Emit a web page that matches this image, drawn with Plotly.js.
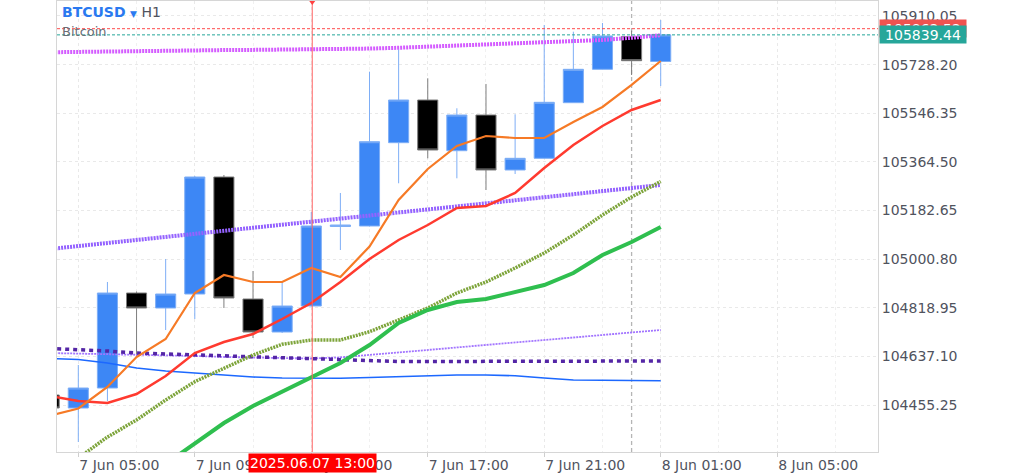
<!DOCTYPE html>
<html>
<head>
<meta charset="utf-8">
<script src="https://cdn.plot.ly/plotly-3.0.1.min.js"></script>
<style>html,body{margin:0;padding:0;background:#fff;}#chart{width:1024px;height:473px;}</style>
</head>
<body>
<div id="chart"></div>
<script>
// ---- data (BTCUSD, H1) ----
const times = ['2025-06-07 04:00','2025-06-07 05:00','2025-06-07 06:00','2025-06-07 07:00','2025-06-07 08:00','2025-06-07 09:00','2025-06-07 10:00','2025-06-07 11:00','2025-06-07 12:00','2025-06-07 13:00','2025-06-07 14:00','2025-06-07 15:00','2025-06-07 16:00','2025-06-07 17:00','2025-06-07 18:00','2025-06-07 19:00','2025-06-07 20:00','2025-06-07 21:00','2025-06-07 22:00','2025-06-07 23:00','2025-06-08 00:00','2025-06-08 01:00'];
const openP  = [104492.8,104444.2,104519.0,104874.2,104818.1,104870.5,105308.0,104851.8,104728.4,104825.6,105122.9,105124.8,105436.3,105595.9,105406.3,105539.8,105334.2,105377.9,105585.8,105710.7,105833.4,105739.9];
const highP  = [104495.0,104605.0,104915.4,104879.8,105001.4,105311.8,105315.5,104956.5,104915.4,105177.1,105248.2,105701.8,105785.5,105677.1,105564.9,105655.8,105542.4,105876.4,105851.3,105883.9,105855.1,105895.1];
const lowP   = [104440.0,104317.1,104470.4,104634.9,104735.9,104776.9,104818.1,104706.0,104724.6,104823.8,105035.0,105122.9,105284.5,105377.9,105303.1,105259.4,105319.2,105377.2,105584.7,105710.0,105689.4,105648.3];
const closeP = [104444.2,104519.0,104874.2,104818.1,104870.5,105308.0,104855.5,104728.4,104825.6,105124.8,105128.5,105440.0,105595.9,105408.9,105539.8,105334.2,105377.9,105587.3,105710.7,105835.3,105742.9,105839.44];

const maOrange  = [104414.3,104442.4,104522.7,104634.9,104702.2,104874.3,104941.6,104915.4,104915.4,104967.7,104934.1,105048.1,105222.0,105337.9,105423.9,105461.3,105453.9,105453.9,105513.7,105569.8,105652.1,105741.8];
const maRed     = [104489.1,104470.4,104462.9,104496.6,104563.9,104649.9,104691.0,104720.9,104777.0,104836.9,104915.4,105001.4,105072.4,105128.5,105192.1,105199.6,105248.2,105341.7,105427.7,105498.7,105558.6,105596.0];
const maGreen   = [null,null,null,null,104234.8,104313.3,104388.1,104451.7,104504.1,104556.4,104612.5,104679.8,104762.1,104810.7,104840.6,104851.8,104878.0,104904.2,104949.0,105016.4,105065.0,105121.1];
const maOlive   = [null,104257.3,104335.8,104399.4,104474.1,104542.6,104592.7,104642.4,104682.4,104698.5,104698.5,104729.5,104773.3,104818.2,104874.3,104915.4,104967.7,105023.8,105091.1,105165.9,105233.2,105291.2];
const maBlue    = [104629.3,104625.6,104612.5,104593.8,104582.6,104575.1,104567.6,104560.1,104556.4,104556.4,104555.3,104558.3,104561.3,104563.9,104567.6,104567.6,104565.0,104556.4,104548.9,104547.8,104547.1,104546.3];
const maIndigo  = [104666.7,104663.0,104657.4,104649.9,104646.2,104642.4,104638.7,104635.0,104633.1,104627.5,104625.6,104621.8,104618.1,104618.1,104618.1,104618.1,104620.0,104620.0,104620.0,104620.0,104620.0,104620.0];
const maLilac   = [104649.9,104648.0,104644.3,104642.4,104640.5,104638.7,104635.0,104633.1,104631.2,104629.3,104633.4,104642.4,104651.7,104661.1,104670.5,104679.8,104689.2,104698.5,104707.9,104717.2,104726.6,104735.9];
const maViolet  = [105038.4,105049.6,105060.9,105072.4,105083.7,105095.3,105106.8,105118.1,105129.7,105140.9,105152.5,105163.7,105175.3,105186.9,105198.1,105209.7,105220.9,105232.5,105243.7,105255.3,105266.9,105278.1];
const maMagenta = [105774.3,105776.2,105778.1,105779.6,105780.7,105781.8,105782.6,105783.3,105784.1,105784.8,105785.5,105788.2,105791.2,105794.9,105798.6,105802.4,105806.1,105810.2,105814.7,105820.3,105828.6,105837.9];

const bidPrice = 105839.44;
const askPrice = 105862.52;
const yTicks = [104455.25,104637.10,104818.95,105000.80,105182.65,105364.50,105546.35,105728.20,105910.05];
const xTickVals = ['2025-06-07 05:00','2025-06-07 09:00','2025-06-07 13:00','2025-06-07 17:00','2025-06-07 21:00','2025-06-08 01:00','2025-06-08 05:00'];
const xTickText = ['7 Jun 05:00','7 Jun 09:00','7 Jun 13:00','7 Jun 17:00','7 Jun 21:00','8 Jun 01:00','8 Jun 05:00'];
const crosshairTime = '2025-06-07 13:02';
const crosshairLabel = '2025.06.07 13:00';
const daySeparator = '2025-06-08 00:00';

const FONT = 'DejaVu Sans';

function maTrace(y, color, width, dash) {
  return {type:'scatter', mode:'lines', x:times, y:y, hoverinfo:'skip',
          line:{color:color, width:width, dash:dash||'solid'}, connectgaps:false};
}

const traces = [
  {type:'candlestick', x:times, open:openP, high:highP, low:lowP, close:closeP, hoverinfo:'skip',
   whiskerwidth:0,
   increasing:{line:{color:'#7eaef6', width:1}, fillcolor:'#3d87f5'},
   decreasing:{line:{color:'#7d7d7d', width:1}, fillcolor:'#000000'}},
  maTrace(maBlue, '#1c68ff', 1.6),
  maTrace(maLilac, '#a274ff', 1.8, '2px,1px'),
  maTrace(maIndigo, '#5426a6', 3.5, '4px,4px'),
  maTrace(maViolet, '#9462ff', 4, '2px,1px'),
  maTrace(maMagenta, '#d45cff', 4, '2px,1px'),
  maTrace(maOlive, '#7da43a', 3.5, '2px,1px'),
  maTrace(maGreen, '#2fbf4f', 4),
  maTrace(maRed, '#ff3a2f', 2.5),
  maTrace(maOrange, '#f67a26', 2.2)
];

const layout = {
  width:1024, height:473,
  margin:{l:57, r:146, t:1, b:21},
  paper_bgcolor:'#ffffff', plot_bgcolor:'#ffffff',
  showlegend:false,
  boxgap:0.31, boxgroupgap:0,
  dragmode:false,
  font:{family:FONT, size:14, color:'#50535e'},
  xaxis:{
    type:'date',
    range:['2025-06-07 04:16:06','2025-06-08 08:27:42'],
    tickmode:'array', tickvals:xTickVals, ticktext:xTickText,
    ticklabelposition:'outside right',
    ticks:'outside', ticklen:4, tickcolor:'#cfcfcf',
    showgrid:true, gridcolor:'#e9e9e9', griddash:'3px,3px', gridwidth:1,
    minor:{dtick:7200000, tick0:'2025-06-07 01:00', showgrid:true, gridcolor:'#f0f0f0', griddash:'3px,3px', ticks:''},
    showline:true, linecolor:'#d6d6d6', linewidth:1, mirror:true,
    zeroline:false,
    rangeslider:{visible:false},
    tickfont:{family:FONT, size:14, color:'#50535e'},
    fixedrange:true
  },
  yaxis:{
    side:'right',
    range:[104279.7, 105966.1],
    tickmode:'array', tickvals:yTicks, tickformat:'.2f',
    ticks:'',
    showgrid:true, gridcolor:'#e9e9e9', griddash:'3px,3px', gridwidth:1,
    showline:true, linecolor:'#d6d6d6', linewidth:1, mirror:true,
    zeroline:false,
    tickfont:{family:FONT, size:14, color:'#50535e'},
    fixedrange:true
  },
  shapes:[
    {type:'line', xref:'x', yref:'paper', x0:daySeparator, x1:daySeparator, y0:0, y1:1,
     line:{color:'#b5b5b5', width:1.3, dash:'4px,3px'}, layer:'below'},
    {type:'line', xref:'paper', yref:'y', x0:0, x1:1, y0:askPrice, y1:askPrice,
     line:{color:'#ff4a4a', width:1, dash:'3px,2px'}},
    {type:'line', xref:'paper', yref:'y', x0:0, x1:1, y0:bidPrice, y1:bidPrice,
     line:{color:'#26a69a', width:1, dash:'3px,2px'}},
    {type:'line', xref:'x', yref:'paper', x0:crosshairTime, x1:crosshairTime, y0:0, y1:1,
     line:{color:'#ff6464', width:1}},
    {type:'path', xref:'x', yref:'paper', xsizemode:'pixel', ysizemode:'pixel',
     xanchor:crosshairTime, yanchor:1, path:'M -3,0 L 3,0 L 0,-4 Z',
     fillcolor:'#ff4040', line:{width:0}}
  ],
  annotations:[
    {xref:'paper', yref:'paper', x:0, y:1, xanchor:'left', yanchor:'top', xshift:3, yshift:-1,
     showarrow:false, align:'left',
     text:'<b><span style="color:#2a79f0">BTCUSD</span></b> <span style="color:#2a79f0;font-size:9px">▼</span> <span style="color:#50535e">H1</span>',
     font:{family:FONT, size:14, color:'#50535e'}},
    {xref:'paper', yref:'paper', x:0, y:1, xanchor:'left', yanchor:'top', xshift:3, yshift:-21,
     showarrow:false, align:'left', text:'Bitcoin',
     font:{family:FONT, size:13, color:'#6b6e76'}},
    {xref:'paper', yref:'y', x:1, y:askPrice, xanchor:'left', yanchor:'middle', xshift:1,
     showarrow:false, text:askPrice.toFixed(2), bgcolor:'#ef5350', borderpad:1,
     width:84, height:15, font:{family:FONT, size:14, color:'#ffffff'}},
    {xref:'paper', yref:'y', x:1, y:bidPrice, xanchor:'left', yanchor:'middle', xshift:1,
     showarrow:false, text:bidPrice.toFixed(2), bgcolor:'#26a69a', borderpad:1,
     width:84, height:15, font:{family:FONT, size:14, color:'#ffffff'}},
    {xref:'x', yref:'paper', x:crosshairTime, y:0, xanchor:'center', yanchor:'top', yshift:-1,
     showarrow:false, text:crosshairLabel, bgcolor:'#ff0000', borderpad:1,
     font:{family:FONT, size:14, color:'#ffffff'}}
  ]
};

Plotly.newPlot('chart', traces, layout, {displayModeBar:false, staticPlot:true});
</script>
</body>
</html>
